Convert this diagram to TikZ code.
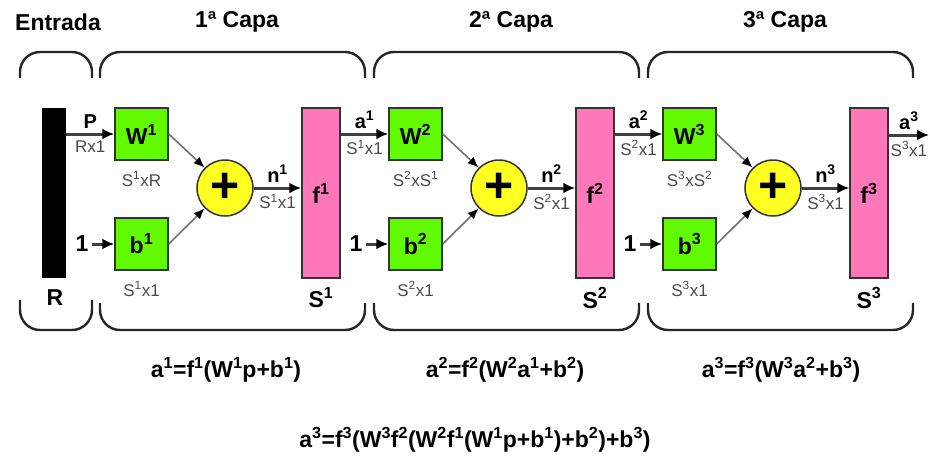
\documentclass[tikz,border=0pt]{standalone}
\usepackage{fontspec}
\setmainfont{Liberation Sans}
\usepackage{tikz}
\usetikzlibrary{arrows.meta}

\definecolor{wgreen}{HTML}{62FA00}
\definecolor{fpink}{HTML}{FF77BB}
\definecolor{sumyellow}{HTML}{FFFF22}
\definecolor{dimgray}{HTML}{4A4A4A}
\newcommand{\expo}[1]{\textsuperscript{#1}}

\begin{document}
\begin{tikzpicture}[x=1pt, y=-1pt,
	big/.style={font=\fontsize{23}{23}\selectfont\bfseries},
	sig/.style={font=\fontsize{20}{20}\selectfont\bfseries, inner sep=1pt, above=3pt},
	dims/.style={font=\fontsize{17}{17}\selectfont, text=dimgray, inner sep=1pt},
	under/.style={dims, below=4pt},
	formula/.style={font=\fontsize{23}{23}\selectfont\bfseries},
	weight/.style={draw=black!80, line width=1.5pt, fill=wgreen, minimum width=53pt, minimum height=52pt, inner sep=0pt, big},
	transfer/.style={draw=black!80, line width=1.5pt, fill=fpink, minimum width=38pt, minimum height=170pt, inner sep=0pt, big},
	adder/.style={circle, draw=black!80, line width=1.5pt, fill=sumyellow, minimum size=56pt, inner sep=0pt},
	signal/.style={draw=black!75, line width=3pt, -{Latex[length=12pt, width=11pt, black]}},
	feed/.style={draw=black!55, line width=1.6pt, -{Latex[length=11pt, width=9pt, black]}},
	brace/.style={draw=black!85, line width=2.4pt, rounded corners=20pt},
	]
	\useasboundingbox (0,0) rectangle (930,466);
	
	% entrada
	\node[big] (entrada) at (58,22) {Entrada};
	\draw[brace] (20,78) -- (20,52) -- (92,52) -- (92,78);
	\draw[brace] (20,300) -- (20,330) -- (92,330) -- (92,300);
	\node[fill=black, minimum width=24pt, minimum height=170pt, inner sep=0pt] (inp) at (54,193) {};
	\node[big] (R) at (55,298) {R};
	
	% las tres capas
	\foreach \i/\prev/\insym/\wdim in {1/inp/P/R, 2/f1/a\expo{1}/S\expo{1}, 3/f2/a\expo{2}/S\expo{2}} {
		\pgfmathsetmacro{\dx}{274*(\i-1)}
		\begin{scope}[xshift=\dx]
			\node[big] (capa\i) at (237,22) {\i ª Capa};
			\draw[brace] (100,78) -- (100,52) -- (365,52) -- (365,78);
			\draw[brace] (100,303) -- (100,330) -- (365,330) -- (365,303);
			
			\node[weight] (W\i) at (141.5,134) {W\expo{\i}};
			\node[weight] (b\i) at (141.5,244) {b\expo{\i}};
			\node[dims] (Wdim\i) at (141.5,179) {S\expo{\i}x{\wdim}};
			\node[dims] (bdim\i) at (141.5,289) {S\expo{\i}x1};
			\node[adder] (sum\i) at (225,188) {\fontsize{50}{50}\selectfont\bfseries +};
			\node[transfer] (f\i) at (321,193) {f\expo{\i}};
			\node[big] (S\i) at (321,298) {S\expo{\i}};
			\node[big] (one\i) at (82,244) {1};
			
			\draw[signal] (\prev.east |- W\i.west) -- node[sig] {\insym} node[under] {{\wdim}x1} (W\i.west);
			\draw[signal] (one\i) -- (b\i);
			\draw[feed] (W\i.east) -- (sum\i.north west);
			\draw[feed] (b\i.east) -- (sum\i.south west);
			\draw[signal] (sum\i.east) -- node[sig] {n\expo{\i}} node[under] {S\expo{\i}x1} (sum\i.east -| f\i.west);
		\end{scope}
	}
	
	% salida
	\coordinate (out) at (929,135);
	\draw[signal] (f3.east |- out) -- node[sig] {a\expo{3}} node[under] {S\expo{3}x1} (out);
	
	% ecuaciones
	\node[formula] (eq1) at (226,370) {a\expo{1}=f\expo{1}(W\expo{1}p+b\expo{1})};
	\node[formula] (eq2) at (505,370) {a\expo{2}=f\expo{2}(W\expo{2}a\expo{1}+b\expo{2})};
	\node[formula] (eq3) at (781,370) {a\expo{3}=f\expo{3}(W\expo{3}a\expo{2}+b\expo{3})};
	\node[formula] (eqall) at (475,440) {a\expo{3}=f\expo{3}(W\expo{3}f\expo{2}(W\expo{2}f\expo{1}(W\expo{1}p+b\expo{1})+b\expo{2})+b\expo{3})};
\end{tikzpicture}
\end{document}
